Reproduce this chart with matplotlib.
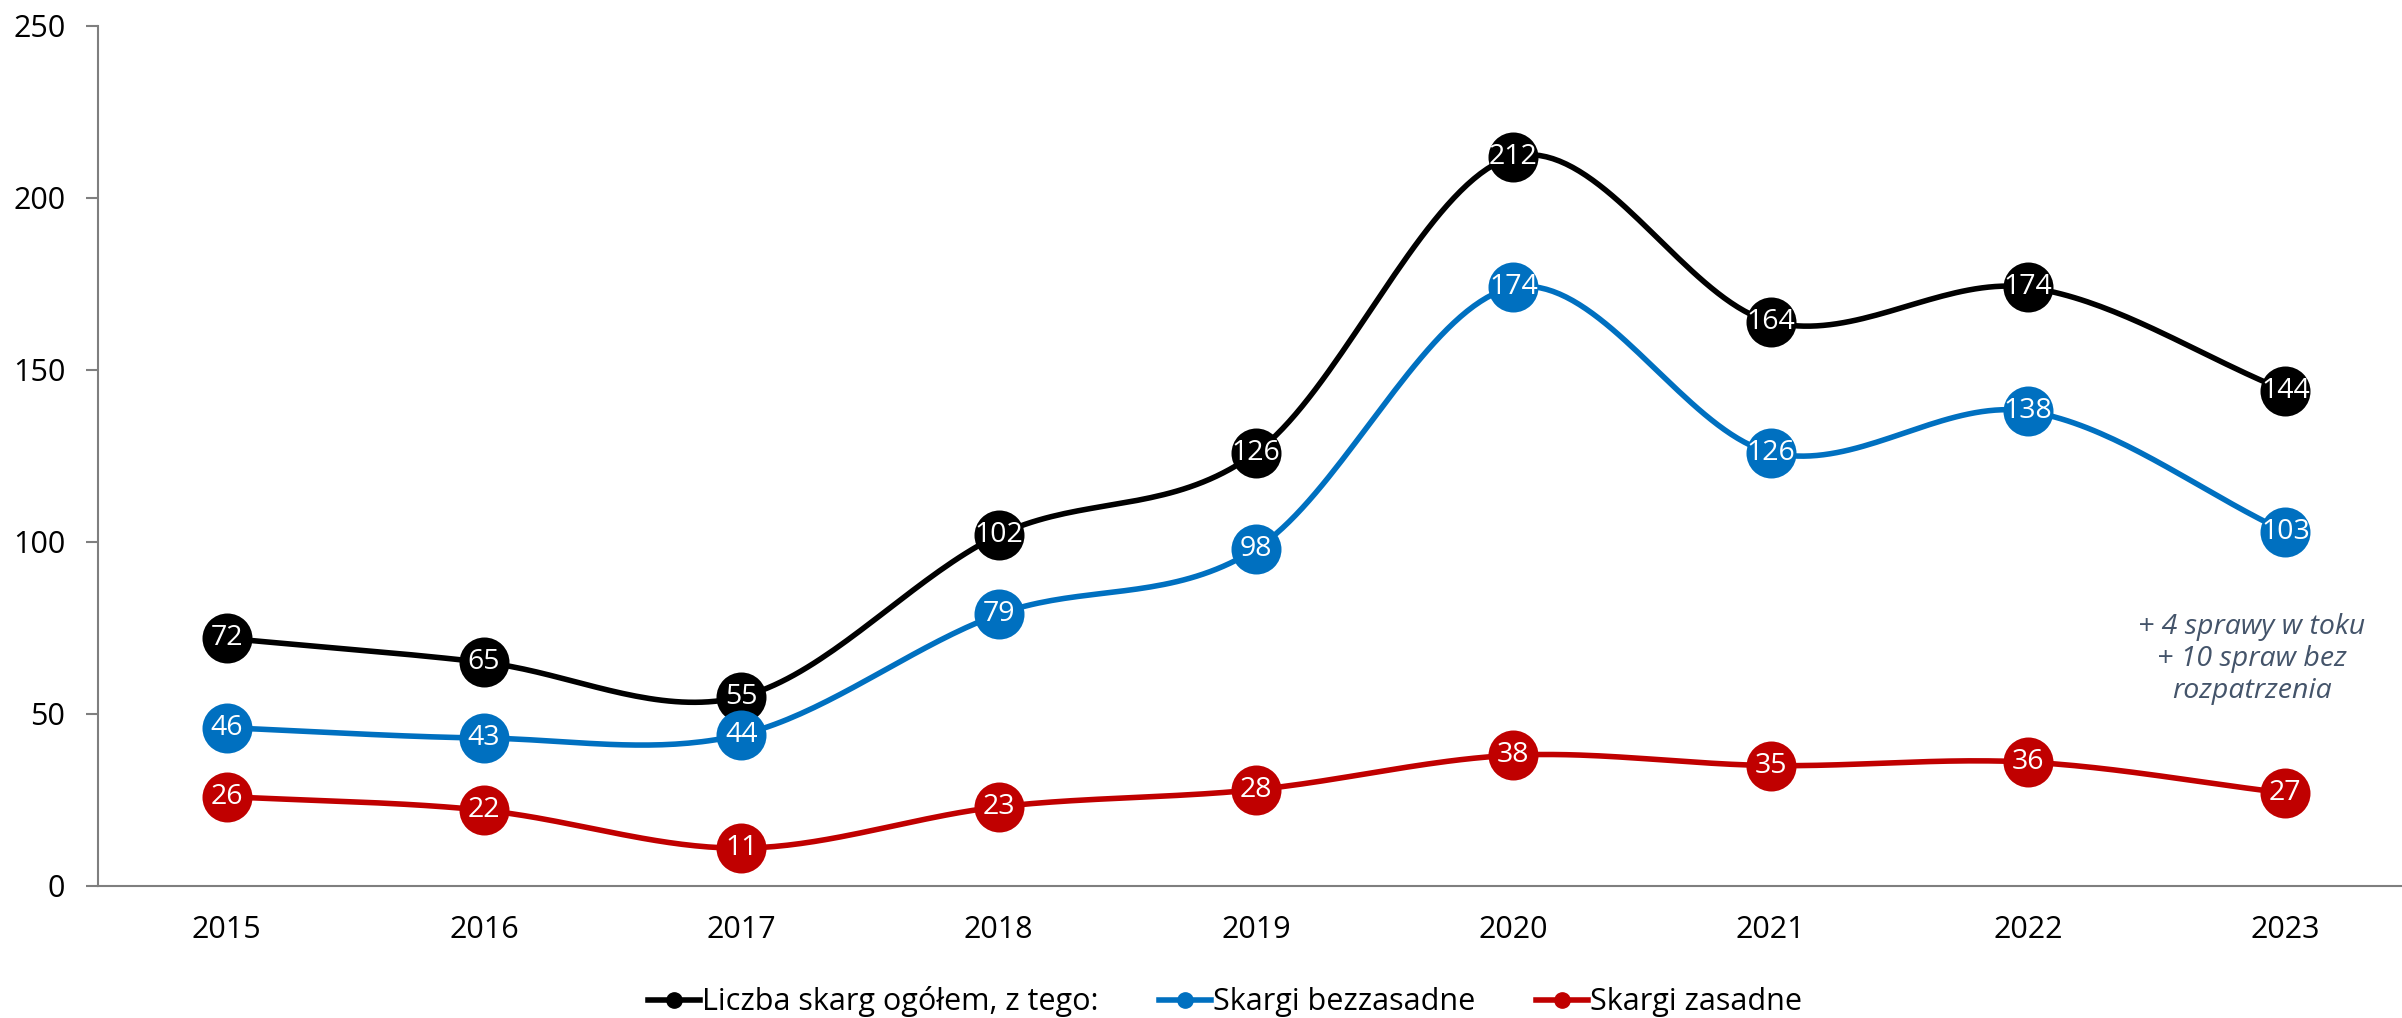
import numpy as np
import matplotlib
matplotlib.use("Agg")
import matplotlib.pyplot as plt
from matplotlib.lines import Line2D

years = ["2015", "2016", "2017", "2018", "2019", "2020", "2021", "2022", "2023"]
total = [72, 65, 55, 102, 126, 212, 164, 174, 144]
unfounded = [46, 43, 44, 79, 98, 174, 126, 138, 103]
founded = [26, 22, 11, 23, 28, 38, 35, 36, 27]
series_names = ["Liczba skarg ogółem, z tego:", "Skargi bezzasadne", "Skargi zasadne"]
colors = ["#000000", "#0070C0", "#C00000"]
note = "+ 4 sprawy w toku\n+ 10 spraw bez\nrozpatrzenia"

plt.rcParams['font.family'] = ['Open Sans', 'DejaVu Sans']

fig = plt.figure(figsize=(24.02, 10.18), dpi=100)
ax = fig.add_axes([0.0408, 0.1297, 0.9642, 0.8448])


def catmull(xs, ys, n=40):
    xs = np.asarray(xs, float); ys = np.asarray(ys, float)
    px = np.concatenate([[2*xs[0]-xs[1]], xs, [2*xs[-1]-xs[-2]]])
    py = np.concatenate([[2*ys[0]-ys[1]], ys, [2*ys[-1]-ys[-2]]])
    outx, outy = [], []
    t = np.linspace(0, 1, n)
    for i in range(1, len(px)-2):
        for P, out in ((px, outx), (py, outy)):
            p0, p1, p2, p3 = P[i-1], P[i], P[i+1], P[i+2]
            c = 0.5*((2*p1) + (-p0+p2)*t + (2*p0-5*p1+4*p2-p3)*t**2 + (-p0+3*p1-3*p2+p3)*t**3)
            out.extend(c)
    return np.array(outx), np.array(outy)

x = np.arange(len(years))
handles = []
for vals, col, name in zip([total, unfounded, founded], colors, series_names):
    sx, sy = catmull(x, vals)
    ax.plot(sx, sy, color=col, lw=4.0, zorder=2, solid_capstyle='round')
    ax.plot(x, vals, 'o', color=col, markersize=36, markeredgewidth=0, zorder=3)
    for xi, v in zip(x, vals):
        ax.text(xi, v, str(v), color='white', ha='center', va='center', fontsize=20.5, zorder=4)
    handles.append(Line2D([0], [0], color=col, lw=4.0, marker='o', markersize=11, label=name))

ax.set_xlim(-0.5, len(years)-0.5)
ax.set_ylim(0, 250)
ax.set_yticks([0, 50, 100, 150, 200, 250])
ax.set_xticks(x)
ax.set_xticklabels(years)
ax.tick_params(axis='x', length=0, pad=21, labelsize=22)
ax.tick_params(axis='y', length=8.5, width=1.5, color='#7f7f7f', pad=15, labelsize=22)
for s in ['top', 'right']:
    ax.spines[s].set_visible(False)
for s in ['left', 'bottom']:
    ax.spines[s].set_color('#7f7f7f')
    ax.spines[s].set_linewidth(1.5)

ax.text(7.87, 66, note, color='#44546A', style='italic', ha='center', va='center',
        fontsize=20.5, linespacing=1.2)

fig.legend(handles=handles, loc='center', bbox_to_anchor=(0.51, 0.016), ncol=3, frameon=False,
           fontsize=22, handlelength=1.7, handletextpad=0.05, columnspacing=2.0)

fig.savefig("out.png", dpi=100)
